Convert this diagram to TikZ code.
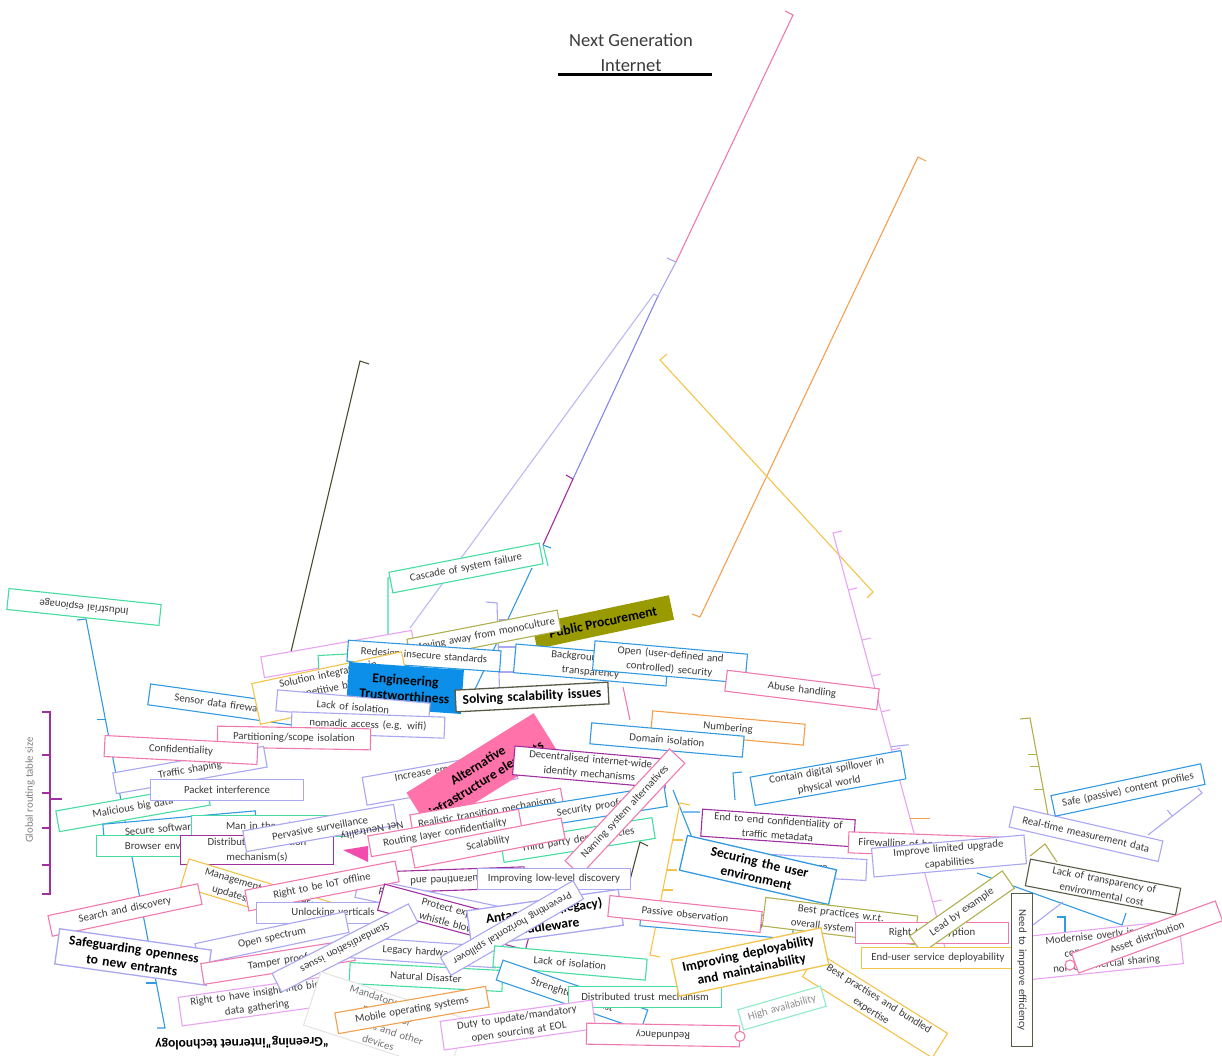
\documentclass[tikz,border=0pt]{standalone}
\usepackage{fontspec}
\setmainfont{Carlito}
\usetikzlibrary{calc}
\definecolor{cteal}{HTML}{45DDA0}
\definecolor{cblue}{HTML}{3399E0}
\definecolor{cpink}{HTML}{F07AAF}
\definecolor{clav}{HTML}{A9A6F2}
\definecolor{cslate}{HTML}{8585E6}
\definecolor{cpurple}{HTML}{A0309F}
\definecolor{corange}{HTML}{F2A04E}
\definecolor{cyellow}{HTML}{F4C44A}
\definecolor{colive}{HTML}{B0B050}
\definecolor{cdark}{HTML}{5A5A48}
\definecolor{cdarkline}{HTML}{4A4A30}
\definecolor{cviolet}{HTML}{E8A3F2}
\definecolor{ctrust}{HTML}{0B8FE8}
\definecolor{cproc}{HTML}{999900}
\definecolor{calt}{HTML}{FF72AA}
\definecolor{ctext}{HTML}{3A3A3A}
\newcommand{\ideafont}{\fontsize{10.8}{14.5}\selectfont}
\newcommand{\topicfont}{\fontsize{13.5}{16}\selectfont\bfseries}
\tikzset{
  idea/.style={rectangle, draw=#1, fill=white, line width=1.1pt, text width=145pt,
               minimum height=21pt, inner xsep=4pt, inner ysep=2.5pt, align=center,
               font=\ideafont, text=ctext},
  topic/.style={idea=#1, font=\topicfont, text=black, line width=1.3pt, inner ysep=5pt},
  blk/.style={rectangle, fill=#1, inner sep=4pt, align=center, font=\topicfont,
              text=black},
  lnk/.style={draw=#1, line width=1.1pt}
}
\begin{document}
\begin{tikzpicture}[x=1pt, y=-1pt]
\useasboundingbox (0,0) rectangle (1222,1056);

% title
\node[font=\fontsize{18.5}{25}\selectfont, text=ctext, align=center] (title) at (631,53)
  {Next Generation\\Internet};
\draw[line width=3.5pt] ($(title.south)+(-73,-1)$) -- ($(title.south)+(81,-1)$);

% long branches
\coordinate (pkHook) at (785,11);  \coordinate (pkTop) at (793,15);
\coordinate (pkEnd) at (676,262);  \coordinate (lvEnd) at (658,296);
\coordinate (slEnd) at (573,479);  \coordinate (puEnd) at (543,545);
\coordinate (lbTop) at (654,294);  \coordinate (lbEnd) at (410,628);
\draw[lnk=cpink] (pkHook) -- (pkTop) -- (pkEnd);
\draw[lnk=clav] (pkEnd) -- (lvEnd) (pkEnd) -- ++(-9,-4);
\draw[lnk=cslate] (lvEnd) -- (slEnd);
\draw[lnk=cpurple] (slEnd) -- (puEnd) (slEnd) -- ++(-7,-4);
\draw[lnk=clav!80] (lbEnd) -- (lbTop) -- ++(5,3);
\draw[lnk=cteal] (puEnd) -- (548,566);
\draw[lnk=cblue] (puEnd) -- ++(8,3);

\coordinate (dkTop) at (360,361); \coordinate (dkEnd) at (290,656);
\draw[lnk=cdarkline] (369,364) -- (dkTop) -- (dkEnd);

\coordinate (orTop) at (918,157); \coordinate (orEnd) at (700,617);
\draw[lnk=corange] (926,161) -- (orTop) -- (orEnd) -- (692,614);

\coordinate (yeTop) at (660,360); \coordinate (yeEnd) at (873,592);
\draw[lnk=cyellow] (667,354) -- (yeTop) -- (yeEnd) -- (867,598);

\coordinate (mgTop) at (833,533); \coordinate (mgEnd) at (945,948);
\draw[lnk=cviolet] (842,531) -- (mgTop) -- (mgEnd);
\foreach \t in {0.137,0.258,0.345,0.431,0.523,0.889}
  \draw[lnk=cviolet] ($(mgTop)!\t!(mgEnd)$) -- ++(9,-2);
\draw[lnk=clav] ($(mgTop)!0.515!(mgEnd)$) -- ++(18,-2);
\draw[lnk=corange] ($(mgTop)!0.687!(mgEnd)$) -- ++(20,0);

\coordinate (blTop) at (86,619); \coordinate (blEnd) at (165,1028);
\draw[lnk=cblue] (77,620) -- (blTop) -- (blEnd) -- (157,1028);
\draw[lnk=cblue] ($(blTop)!0.245!(blEnd)$) -- ++(-8,0);
\draw[lnk=cblue] ($(blTop)!0.89!(blEnd)$) -- ++(-10,0);

% left bracket
\coordinate (gbTop) at (50,712); \coordinate (gbEnd) at (50,894);
\draw[lnk=cpurple] (42,712) -- (gbTop) -- (gbEnd) -- (42,894);
\foreach \y in {755,793,828,865}
  \draw[lnk=cpurple] (50,\y) -- (42,\y);
\draw[lnk=cpurple] (50,799) -- (62,799);

% right brackets
\coordinate (olTop) at (1030,718); \coordinate (olEnd) at (1048,815);
\draw[lnk=colive] (1020,719) -- (olTop) -- (olEnd);
\foreach \t in {0.38,0.5,0.74}
  \draw[lnk=colive] ($(olTop)!\t!(olEnd)$) -- ++(-9,0);
\coordinate (lvTop) at (1202,793); \coordinate (lvBot) at (1148,835);
\draw[lnk=clav] (1198,788) -- (lvTop) -- (lvBot);
\draw[lnk=clav] ($(lvTop)!0.55!(lvBot)$) -- ++(-5,-6);
\draw[lnk=colive] (1030,856) -- (1045,844) -- (1057,862);
\draw[lnk=cblue] (1057,917) -- (1065,917) -- (1065,975) -- (1057,975) (1050,947) -- (1065,947);
\draw[lnk=cblue] (977,873) -- (1122,925) -- (1126,913);
\draw[lnk=clav] (1033,925) -- (1063,902);

% small connectors in the cluster
\draw[lnk=cteal] (398,576) -- (388,578) -- (388,648);
\draw[lnk=cblue] (532,568) -- (470,700);
\draw[lnk=clav] (486,602) -- (497,603) -- (500,707);
\foreach \y in {620,647,672}
  \draw[lnk=clav] (499,\y) -- (516,\y);
\draw[lnk=cpink] (623,687) -- (630,720);
\draw[lnk=cblue] (742,772) -- (733,773) -- (735,800);
\draw[lnk=cblue] (673,790) -- (693,840) (683,812) -- (700,812);
\draw[lnk=cdarkline] (630,880) -- (640,842) -- (648,846);
\draw[lnk=cyellow] (690,805) -- (680,803) -- (650,955) -- (660,957);
\foreach \y in {840,870,890,915}
  \draw[lnk=cyellow] ($(680,803)!{(\y-803)/152}!(650,955)$) -- ++(10,0);

% back boxes
\node[idea=cviolet, rotate=10] (shadowA) at (338,654) {\strut};
\node[idea=cteal, rotate=3] (cyber) at (395,662) {Cyber\strut};
\node[idea=cblue, rotate=-8] (sensor) at (225,705) {Sensor data firewalling};
\node[blk=cproc, rotate=12, minimum width=140pt, minimum height=25pt] (procure) at (603,622) {Public Procurement};
\node[idea=colive, rotate=11] (monocult) at (484,635) {Moving away from monoculture};
\node[idea=cblue, rotate=-4] (redesign) at (424,656) {Redesign insecure standards};
\node[idea=cteal, rotate=11] (cascade) at (466,568) {Cascade of system failure};
\node[idea=cyellow, rotate=12] (solution) at (331,688) {Solution integration in\\competitive bidding\\Procurement};
\node[blk=ctrust, rotate=-4, minimum width=115pt, minimum height=44pt] (trust) at (405,688) {Engineering\\Trustworthiness};
\node[idea=cblue, rotate=-5] (backgr) at (591,665) {Background traffic\\transparency};
\node[idea=cblue, rotate=-5] (opensec) at (670,662) {Open (user-defined and\\controlled) security};
\node[topic=cdark, rotate=3] (scalab) at (532,697) {Solving scalability issues};
\node[idea=cpink, rotate=-7] (abuse) at (802,690) {Abuse handling};
\node[idea=clav, rotate=-5] (isolA) at (353,707) {Lack of isolation};
\node[idea=clav, rotate=-2] (nomadic) at (368,725) {nomadic access (e.g. wifi)};
\node[idea=cpink, rotate=-1] (partit) at (294,738) {Partitioning/scope isolation};
\node[idea=clav, rotate=10] (shaping) at (190,770) {Traffic shaping};
\node[idea=cpink, rotate=-3] (confid) at (181,750) {Confidentiality};
\node[idea=cteal, rotate=10] (malic) at (133,808) {Malicious big data};
\node[idea=clav] (packet) at (227,790) {Packet interference};
\node[idea=clav, rotate=10] (emerg) at (440,778) {Increase emergency\\response};
\node[blk=calt, rotate=32, minimum width=150pt, minimum height=45pt] (altinf) at (482,772) {Alternative\\infrastructure elements};
\node[idea=corange, rotate=-5] (number) at (728,728) {Numbering};
\node[idea=cblue, rotate=-5] (domain) at (667,740) {Domain isolation};
\node[idea=cpurple, rotate=-5] (decent) at (590,767) {Decentralised internet-wide\\identity mechanisms};
\node[idea=cblue, rotate=5] (securesw) at (180,828) {Secure software updates};
\node[idea=cteal] (mitm) at (268,826) {Man in the middle};
\node[idea=cteal] (browser) at (173,846) {Browser environment};
\node[idea=cpurple] (reput) at (257,850) {Distributed reputation\\mechanism(s)};
\node[idea=clav, rotate=10] (surveil) at (320,828) {Pervasive surveillance};
\node[idea=clav, rotate=191, draw=none, fill=none] (neutral) at (372,830) {Net Neutrality};
\fill[magenta!70] (343,850) -- (368,846) -- (368,862) -- cycle;
\node[idea=cpink, rotate=10] (realist) at (487,812) {Realistic transition mechanisms};
\node[idea=cblue, rotate=9] (proofs) at (590,808) {Security proofs};
\node[idea=cteal, rotate=9] (thirdp) at (578,840) {Third party dependencies};
\node[idea=cpink, rotate=10] (routing) at (445,833) {Routing layer confidentiality};
\node[idea=cpink, rotate=11] (scalty) at (488,843) {Scalability};
\node[idea=cpink, rotate=47] (naming) at (625,812) {Naming system alternatives};
\node[idea=cpurple, rotate=182] (quarant) at (448,880) {Quarantined and};
\node[idea=clav] (lowlev) at (554,879) {Improving low-level discovery};
\node[idea=clav, rotate=-12] (program) at (432,903) {Programmable networks};
\node[idea=cyellow, rotate=-17] (manage) at (258,895) {Management of firmware\\updates/ certificates};
\node[idea=cpink, rotate=11] (iotoff) at (322,886) {Right to be IoT offline};
\node[idea=cpink, rotate=12] (search) at (125,910) {Search and discovery};
\node[idea=clav] (vertic) at (333,913) {Unlocking verticals};
\node[idea=cpurple, rotate=-15] (whistle) at (455,917) {Protect exposed\\whistle blowers};
\node[idea=clav, rotate=12] (spectrum) at (272,938) {Open spectrum};
\node[topic=clav, rotate=-8] (openness) at (133,957) {Safeguarding openness\\to new entrants};
\node[idea=cpink, rotate=9] (tamper) at (278,962) {Tamper proof};
\node[idea=clav, rotate=-4] (legacyA) at (420,952) {Legacy hardware};
\node[idea=cviolet, rotate=8] (insight) at (256,1001) {Right to have insight into big\\data gathering};
\node[idea=clav, rotate=207] (standard) at (345,948) {Standardisation issues};
\node[idea=cteal, rotate=-3] (disaster) at (426,977) {Natural Disaster};
\node[idea=black!10, rotate=-18, text=black!55] (patches) at (385,1022) {Mandatory security\\patches for\\cameras and other\\devices};
\node[idea=corange, rotate=10] (mobile) at (412,1010) {Mobile operating systems};
\node[topic=clav, rotate=8] (antag) at (545,918) {Antagonistic (legacy)\\middleware};
\node[idea=clav, rotate=210] (spill) at (512,928) {Preventing horizontal spillover};
\node[idea=cteal, rotate=-5] (isolB) at (570,963) {Lack of isolation};
\node[idea=cblue, rotate=-19] (strength) at (572,995) {Strenghtening trust};
\node[idea=cteal] (distrust) at (645,997) {Distributed trust mechanism};
\node[idea=cviolet, rotate=8] (duty) at (518,1025) {Duty to update/mandatory\\open sourcing at EOL};
\node[idea=cpink, rotate=179] (redund) at (663,1035) {Redundancy};
\draw[cpink, line width=1.1pt, fill=white] (redund.west) circle (5pt);
\node[idea=cblue, rotate=-5] (declar) at (717,922) {Declaration of origin};
\node[idea=cpink, rotate=-6] (passive) at (685,914) {Passive observation};
\node[idea=clav, rotate=-3] (legacyB) at (790,866) {Legacy hardware};
\node[idea=cpurple, rotate=-4] (endtoend) at (778,828) {End to end confidentiality of\\traffic metadata};
\node[idea=cblue, rotate=10] (contain) at (828,778) {Contain digital spillover in\\physical world};
\node[idea=cpink, rotate=-2] (firewall) at (925,845) {Firewalling of home networks};
\node[idea=clav, rotate=5] (upgrade) at (949,856) {Improve limited upgrade\\capabilities};
\node[topic=cblue, rotate=-13] (userenv) at (758,870) {Securing the user\\environment};
\node[idea=colive, rotate=-7] (bestprac) at (840,921) {Best practices w.r.t.\\overall system impact};
\node[idea=cpink] (encrypt) at (932,933) {Right to encryption};
\node[idea=colive, rotate=35, text width=105pt] (leadex) at (962,912) {Lead by example};
\node[idea=cyellow] (enduser) at (938,958) {End-user service deployability};
\node[idea=cyellow, rotate=-32] (bundled) at (875,1005) {Best practises and bundled\\expertise};
\node[topic=cyellow, rotate=12] (deploy) at (750,962) {Improving deployability\\and maintainability};
\node[idea=cteal!60, rotate=16, text width=78pt, text=black!45] (highav) at (782,1008) {High availability};
\node[idea=clav, rotate=-13] (realtime) at (1086,834) {Real-time measurement data};
\node[idea=cblue, rotate=12] (safeprof) at (1128,790) {Safe (passive) content profiles};
\node[idea=cdark, rotate=-11] (envcost) at (1103,887) {Lack of transparency of\\environmental cost};
\node[idea=cviolet, rotate=6] (copyr) at (1105,950) {Modernise overly invasive\\copyright to allow\\non-commercial sharing};
\draw[cpink, line width=1.1pt, fill=white] (1070,965) circle (5pt);
\node[idea=cdark, rotate=-90] (effic) at (1022,970) {Need to improve efficiency};
\node[idea=cpink, rotate=20] (asset) at (1147,937) {Asset distribution};
\node[idea=cteal, rotate=174] (espion) at (84,607) {Industrial espionage};
\node[font=\topicfont, rotate=181] (greening) at (242,1043) {``Greening''internet technology};
\node[font=\ideafont, text=black!50, rotate=90] (routsize) at (30,790) {Global routing table size};
\end{tikzpicture}
\end{document}
